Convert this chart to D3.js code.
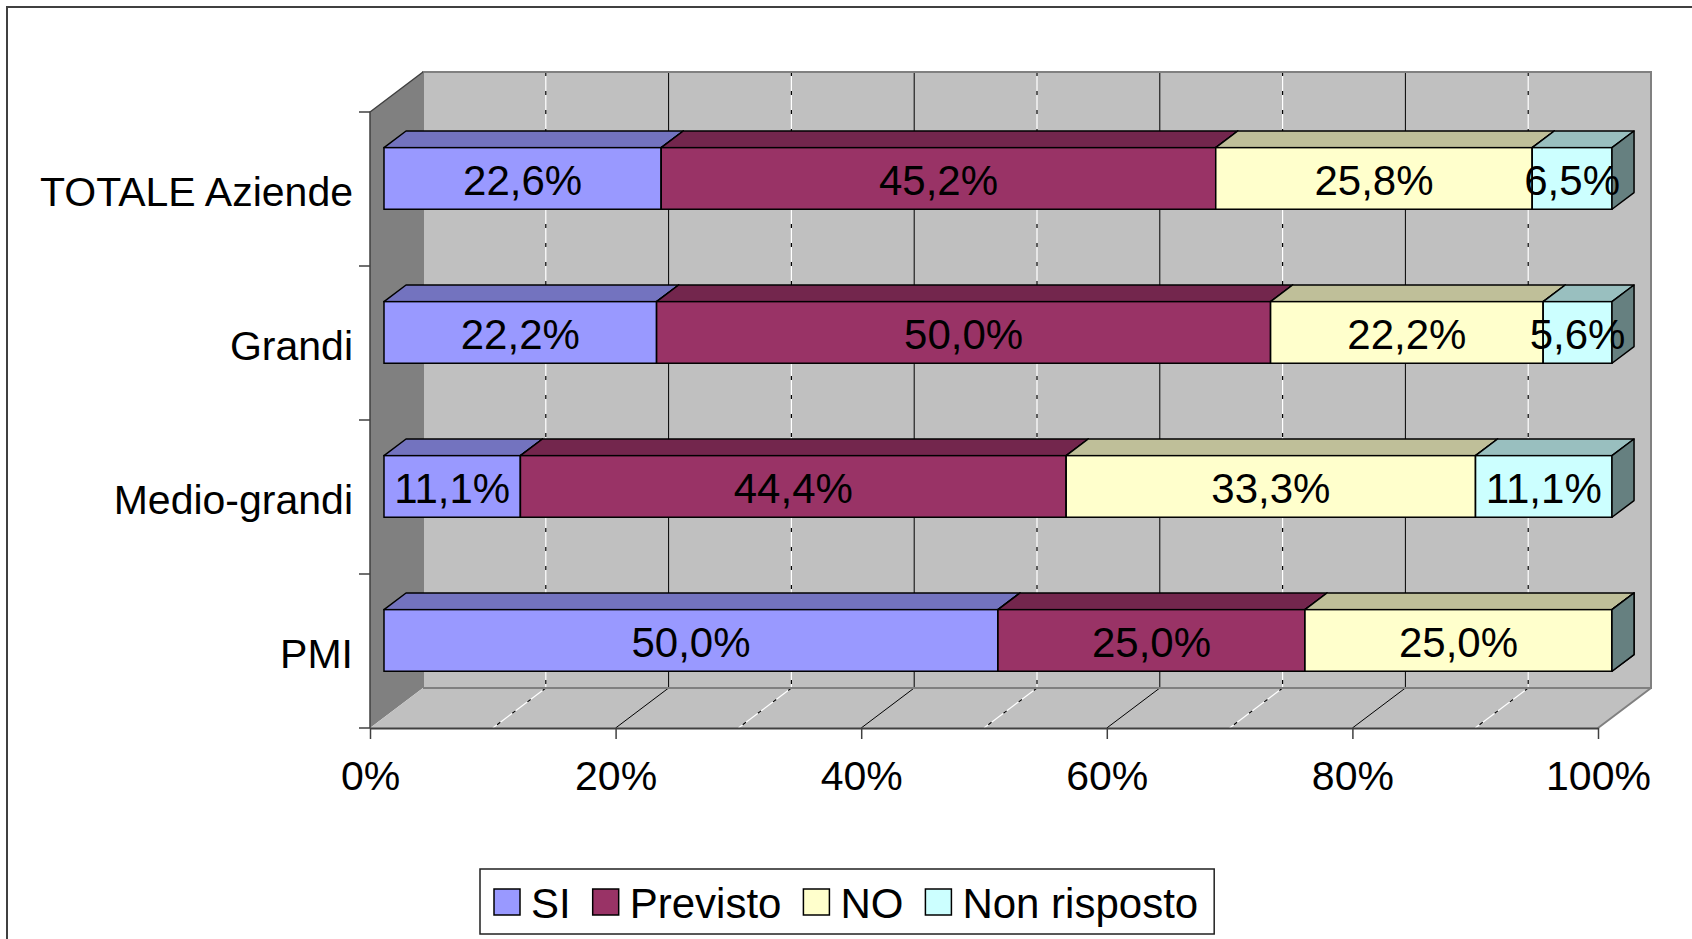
<!DOCTYPE html>
<html>
<head>
<meta charset="utf-8">
<title>Aziende</title>
<script src="https://cdn.jsdelivr.net/npm/d3@7"></script>
<style>
  body { margin: 0; background: #fff; }
  text { font-family: "Liberation Sans", Arial, sans-serif; fill: #000; }
</style>
</head>
<body>
<script>
// data (percent)
const categories = ["TOTALE Aziende", "Grandi", "Medio-grandi", "PMI"];
const seriesNames = ["SI", "Previsto", "NO", "Non risposto"];
const SI          = [22.6, 22.2, 11.1, 50.0];
const previsto    = [45.2, 50.0, 44.4, 25.0];
const NO          = [25.8, 22.2, 33.3, 25.0];
const nonRisposto = [6.5, 5.6, 11.1, 0];
const tickValues  = [0, 0.2, 0.4, 0.6, 0.8, 1];
const gridValues  = [0.1, 0.2, 0.3, 0.4, 0.5, 0.6, 0.7, 0.8, 0.9];

const series = [SI, previsto, NO, nonRisposto];
const colors = ["#9999FF", "#993366", "#FFFFCC", "#CCFFFF"];

function shade(c, k) {
    var r = d3.rgb(c);
    return d3.rgb(r.r * k, r.g * k, r.b * k).formatHex();
}

const W = 1692, H = 939;
const svg = d3.select("body").append("svg").attr("width", W).attr("height", H);

const x = d3.scaleLinear().domain([0, 1]).range([370, 1598]);
const y = d3.scaleBand().domain(categories).range([112, 728]).paddingInner(0.6).paddingOuter(0.3);
const yTop = 112, yBot = 728;
// 3d depth of the plot box
const dx = 53, dy = -40;
const t1 = 0.264, t2 = 0.68;   // front / back of bars inside the depth

// outer chart border (right and bottom run off the page)
svg.append("rect").attr("x", 7).attr("y", 7).attr("width", 1720).attr("height", 1000)
    .attr("fill", "none").attr("stroke", "#404040").attr("stroke-width", 2);

// walls
svg.append("rect")
    .attr("x", x(0) + dx).attr("y", yTop + dy)
    .attr("width", x(1) - x(0)).attr("height", yBot - yTop)
    .attr("fill", "#c0c0c0");
svg.append("polygon")
    .attr("points", [[x(0), yTop], [x(0) + dx, yTop + dy], [x(0) + dx, yBot + dy], [x(0), yBot]].join(" "))
    .attr("fill", "#808080");
svg.append("polygon")
    .attr("points", [[x(0), yBot], [x(0) + dx, yBot + dy], [x(1) + dx, yBot + dy], [x(1), yBot]].join(" "))
    .attr("fill", "#c0c0c0");

// gridlines on back wall and floor
gridValues.forEach(function(v) {
    var major = Math.round(v * 10) % 2 == 0;
    var lines = [
        [x(v) + dx, yTop + dy, x(v) + dx, yBot + dy],
        [x(v) + dx, yBot + dy, x(v), yBot]
    ];
    lines.forEach(function(l) {
        if (major) {
            svg.append("line").attr("x1", l[0]).attr("y1", l[1]).attr("x2", l[2]).attr("y2", l[3])
                .attr("stroke", "#000").attr("stroke-width", 1);
        } else {
            svg.append("line").attr("x1", l[0]).attr("y1", l[1]).attr("x2", l[2]).attr("y2", l[3])
                .attr("stroke", "#fff").attr("stroke-width", 1.2);
            svg.append("line").attr("x1", l[0]).attr("y1", l[1]).attr("x2", l[2]).attr("y2", l[3])
                .attr("stroke", "#000").attr("stroke-width", 1.2).attr("stroke-dasharray", "4,15");
        }
    });
});

// wall edges
svg.append("path")
    .attr("d", "M" + (x(0) + dx) + "," + (yBot + dy) + "V" + (yTop + dy) + "H" + (x(1) + dx) +
               "V" + (yBot + dy) + "H" + (x(0) + dx) + "M" + (x(1) + dx) + "," + (yBot + dy) +
               "L" + x(1) + "," + yBot)
    .attr("fill", "none").attr("stroke", "#808080").attr("stroke-width", 2);
svg.append("path")
    .attr("d", "M" + x(0) + "," + yBot + "V" + yTop + "L" + (x(0) + dx) + "," + (yTop + dy))
    .attr("fill", "none").attr("stroke", "#404040").attr("stroke-width", 1.5);

// y ticks at band boundaries
var bounds = categories.map(function(c) { return y(c) - y.step() * y.paddingOuter(); });
bounds.push(yBot);
svg.append("g").selectAll("line").data(bounds).enter().append("line")
    .attr("x1", x(0) - 11).attr("x2", x(0)).attr("y1", d => d).attr("y2", d => d)
    .attr("stroke", "#404040").attr("stroke-width", 1.5);

svg.append("g").selectAll("text").data(categories).enter().append("text")
    .attr("x", 353)
    .attr("y", d => y(d) + y.bandwidth() / 2 + 3)
    .attr("text-anchor", "end")
    .attr("dominant-baseline", "central")
    .style("font-size", "41px")
    .text(d => d);

// x axis
var xAxis = svg.append("g")
    .attr("transform", "translate(0," + yBot + ")")
    .call(d3.axisBottom(x).tickValues(tickValues).tickFormat(d3.format(".0%"))
        .tickSize(11).tickSizeOuter(0).tickPadding(22));
xAxis.select(".domain").attr("stroke", "#404040").attr("stroke-width", 2);
xAxis.selectAll(".tick line").attr("stroke", "#404040").attr("stroke-width", 1.5);
xAxis.selectAll(".tick text").attr("font-family", null).style("font-size", "41px").attr("fill", "#000");

// bars
const ox1 = dx * t1, oy1 = dy * t1;
const ox2 = dx * t2, oy2 = dy * t2;
const fmt = function(v) { return d3.format(".1f")(v).replace(".", ",") + "%"; };
var labels = [];

categories.forEach(function(cat, i) {
    var total = d3.sum(series, s => s[i]);
    var cum = 0;
    var g = svg.append("g");
    var yt = y(cat) + oy1, yb = yt + y.bandwidth();
    series.forEach(function(s, j) {
        var a = x(cum / total), b = x((cum + s[i]) / total);
        cum += s[i];
        var L = a + ox1, R = b + ox1;
        var sx = ox2 - ox1, sy = oy2 - oy1;
        g.append("polygon")
            .attr("points", [[L, yt], [L + sx, yt + sy], [R + sx, yt + sy], [R, yt]].join(" "))
            .attr("fill", shade(colors[j], 0.75)).attr("stroke", "#000").attr("stroke-width", 1.5)
            .attr("stroke-linejoin", "round");
        g.append("rect")
            .attr("x", L).attr("y", yt).attr("width", R - L).attr("height", y.bandwidth())
            .attr("fill", colors[j]).attr("stroke", "#000").attr("stroke-width", 1.5);
        g.append("polygon")
            .attr("points", [[R, yt], [R + sx, yt + sy], [R + sx, yb + sy], [R, yb]].join(" "))
            .attr("fill", shade(colors[j], 0.5)).attr("stroke", "#000").attr("stroke-width", 1.5)
            .attr("stroke-linejoin", "round");
        if (s[i] > 0) labels.push({x: (L + R) / 2, y: (yt + yb) / 2, t: fmt(s[i])});
    });
});

svg.append("g").selectAll("text").data(labels).enter().append("text")
    .attr("x", d => d.x).attr("y", d => d.y + 2)
    .attr("text-anchor", "middle")
    .attr("dominant-baseline", "central")
    .style("font-size", "42px")
    .text(d => d.t);

// legend
var leg = svg.append("g");
var box = leg.append("rect").attr("x", 480).attr("y", 869).attr("height", 65)
    .attr("fill", "#fff").attr("stroke", "#202020").attr("stroke-width", 1.5);
var lx = 494;
seriesNames.forEach(function(name, j) {
    leg.append("rect").attr("x", lx).attr("y", 889).attr("width", 26).attr("height", 26)
        .attr("fill", colors[j]).attr("stroke", "#000").attr("stroke-width", 1.5);
    var t = leg.append("text").attr("x", lx + 37).attr("y", 903)
        .attr("dominant-baseline", "central")
        .style("font-size", "42px").text(name);
    lx = lx + 37 + t.node().getComputedTextLength() + 22;
});
box.attr("width", lx - 22 + 16 - 480);
</script>
</body>
</html>
